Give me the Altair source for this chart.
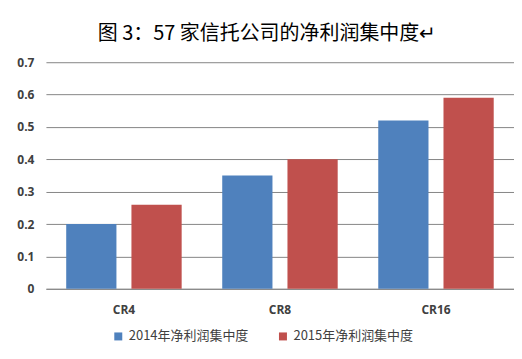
import altair as alt
import pandas as pd

categories = ["CR4", "CR8", "CR16"]
series = ["2014年净利润集中度", "2015年净利润集中度"]
values_2014 = [0.20, 0.35, 0.52]
values_2015 = [0.26, 0.40, 0.59]
y_ticks = [0, 0.1, 0.2, 0.3, 0.4, 0.5, 0.6, 0.7]
colors = ["#4F81BD", "#C0504D"]

rows = []
for c, v in zip(categories, values_2014):
    rows.append({"cat": c, "series": series[0], "value": v})
for c, v in zip(categories, values_2015):
    rows.append({"cat": c, "series": series[1], "value": v})
df = pd.DataFrame(rows)

chart = alt.Chart(df).mark_bar().encode(
    x=alt.X("cat:N", sort=categories, title=None,
            scale=alt.Scale(paddingInner=0.26, paddingOuter=0.13),
            axis=alt.Axis(labelAngle=0, ticks=False, domainColor="#868686",
                          labelPadding=16, labelFont="Open Sans", labelFontSize=12,
                          labelColor="#404040", labelFontWeight="bold")),
    xOffset=alt.XOffset("series:N", sort=series,
                        scale=alt.Scale(paddingInner=0.23, paddingOuter=0)),
    y=alt.Y("value:Q", title=None,
            scale=alt.Scale(domain=[0, 0.7], nice=False),
            axis=alt.Axis(values=y_ticks, format=".1~f", ticks=False, domain=False,
                          gridColor="#868686", labelPadding=12, labelFont="Open Sans",
                          labelFontSize=12, labelColor="#404040", labelFontWeight="bold")),
    color=alt.Color("series:N", sort=series,
                    scale=alt.Scale(domain=series, range=colors),
                    legend=alt.Legend(title=None, orient="none", direction="horizontal",
                                      legendX=66, legendY=268, symbolType="square",
                                      symbolSize=64, labelFont="Noto Sans CJK SC",
                                      labelFontSize=13, labelColor="#404040",
                                      columnPadding=28, symbolStrokeWidth=0)),
).properties(
    width=469,
    height=227,
    autosize=alt.AutoSizeParams(type="none"),
    padding={"left": 38, "top": 54, "right": 0, "bottom": 62},
    title=alt.TitleParams("图 3：57 家信托公司的净利润集中度↵", font="Noto Sans CJK SC",
                          fontSize=20, fontWeight="normal", color="#000000",
                          anchor="middle", offset=12, dx=-13),
).configure_view(stroke=None)

chart.save("out.html", embed_options={"renderer": "svg", "actions": False})
